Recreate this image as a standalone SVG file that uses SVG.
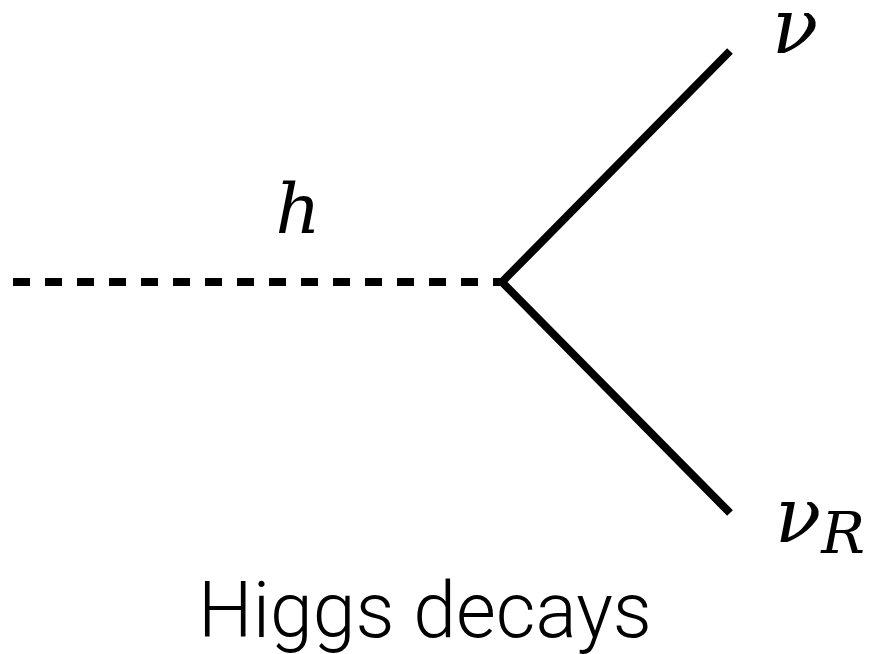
<svg xmlns="http://www.w3.org/2000/svg" width="883" height="654" viewBox="0 0 883 654">
<style>
.ln{fill:none;stroke:#000;stroke-width:8}
.math{font-family:"DejaVu Serif","Liberation Serif",serif;font-style:italic;fill:#000}
.cap{font-family:Roboto,"Open Sans","Liberation Sans",sans-serif;font-weight:300;fill:#000}
</style>
<rect width="883" height="654" fill="#fff"/>
<g id="connectors">
<line class="ln" x1="13" y1="282" x2="502" y2="282" stroke-dasharray="17 15"/>
<polyline class="ln" points="730,51 502,282 730,513" stroke-linejoin="miter"/>
</g>
<g id="h"><text class="math" x="298" y="233" font-size="70" text-anchor="middle">h</text></g>
<g id="nu"><text class="math" x="795" y="53" font-size="76" text-anchor="middle">ν</text></g>
<g id="nuR"><text class="math" x="775" y="542" font-size="76">ν<tspan font-size="58" dy="11">R</tspan></text></g>
<g id="caption"><text class="cap" x="425" y="637" font-size="77" text-anchor="middle">Higgs decays</text></g>
</svg>
